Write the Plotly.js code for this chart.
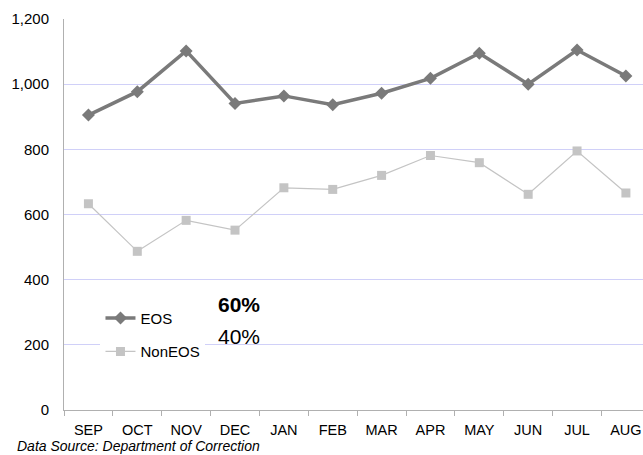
<!DOCTYPE html>
<html>
<head>
<meta charset="utf-8">
<script src="https://cdn.plot.ly/plotly-3.0.1.min.js"></script>
<style>html,body{margin:0;padding:0;background:#fff;}#chart{width:643px;height:455px;}</style>
</head>
<body>
<div id="chart"></div>
<script>
var months = ["SEP","OCT","NOV","DEC","JAN","FEB","MAR","APR","MAY","JUN","JUL","AUG"];
var eos = [905, 977, 1102, 941, 964, 937, 972, 1018, 1095, 1000, 1105, 1025];
var nonEos = [633, 487, 582, 552, 682, 677, 720, 781, 759, 662, 795, 666];
var yTicks = [0, 200, 400, 600, 800, 1000, 1200];
var yTickText = ["0", "200", "400", "600", "800", "1,000", "1,200"];
var eosShare = "60%";
var nonEosShare = "40%";
var sourceNote = "Data Source: Department of Correction";

var FONT = "Liberation Sans, Arial, sans-serif";

var traces = [
  {
    x: months, y: eos, name: "EOS", type: "scatter", mode: "lines+markers",
    line: {color: "#7a7a7a", width: 3.5},
    marker: {symbol: "diamond", size: 10, color: "#7a7a7a"},
    legendgroup: "a"
  },
  {
    x: months, y: nonEos, name: "NonEOS", type: "scatter", mode: "lines+markers",
    line: {color: "#c4c4c4", width: 1.2},
    marker: {symbol: "square", size: 9, color: "#c4c4c4"},
    legendgroup: "b"
  }
];

var layout = {
  width: 643, height: 455,
  margin: {l: 64, r: 0, t: 19, b: 45},
  paper_bgcolor: "#ffffff", plot_bgcolor: "#ffffff",
  font: {family: FONT, size: 15, color: "#000"},
  showlegend: true,
  legend: {
    x: 0.063, y: 0.277, xanchor: "left", yanchor: "top",
    bgcolor: "#ffffff", borderwidth: 0,
    font: {family: FONT, size: 15, color: "#000"},
    traceorder: "grouped", tracegroupgap: 11,
    itemwidth: 30
  },
  xaxis: {
    type: "category",
    range: [-0.5, 11.35],
    tickson: "boundaries",
    ticks: "outside", ticklen: 5, tickcolor: "#b0b0b0", tickwidth: 1,
    showgrid: false, zeroline: false,
    showline: true, linecolor: "#b0b0b0", linewidth: 1,
    tickfont: {family: FONT, size: 14.5, color: "#000"},
    ticklabelstandoff: 7,
    fixedrange: true
  },
  yaxis: {
    range: [0, 1200],
    tickvals: yTicks, ticktext: yTickText,
    showgrid: true, gridcolor: "#d0d0f8", gridwidth: 1,
    zeroline: false,
    showline: true, linecolor: "#b0b0b0", linewidth: 1,
    ticks: "",
    tickfont: {family: FONT, size: 15, color: "#000"},
    ticklabelstandoff: 11,
    fixedrange: true
  },
  annotations: [
    {text: "<b>" + eosShare + "</b>", xref: "paper", yref: "paper", x: 0.302, y: 0.27,
     xanchor: "center", yanchor: "middle", showarrow: false,
     font: {family: FONT, size: 21, color: "#000"}},
    {text: nonEosShare, xref: "paper", yref: "paper", x: 0.302, y: 0.189,
     xanchor: "center", yanchor: "middle", showarrow: false,
     font: {family: FONT, size: 21, color: "#000"}},
    {text: "<i>" + sourceNote + "</i>", xref: "paper", yref: "paper", x: -0.083, y: -0.1145,
     xanchor: "left", yanchor: "bottom", showarrow: false, borderpad: 0,
     font: {family: FONT, size: 14, color: "#000"}}
  ]
};

Plotly.newPlot("chart", traces, layout, {displayModeBar: false, staticPlot: true});
</script>
</body>
</html>
